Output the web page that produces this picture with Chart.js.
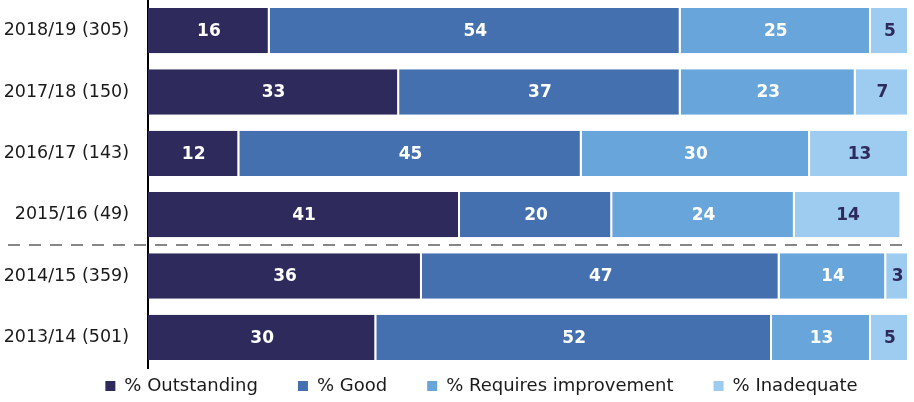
<!DOCTYPE html>
<html>
<head>
<meta charset="utf-8">
<script src="https://cdn.jsdelivr.net/npm/chart.js@4"></script>
<style>
  html, body { margin: 0; padding: 0; background: #fff; }
  #wrap { width: 914px; height: 402px; position: relative; }
</style>
</head>
<body>
<div id="wrap"><canvas id="chart"></canvas></div>
<script>
const years = ['2018/19 (305)', '2017/18 (150)', '2016/17 (143)', '2015/16 (49)', '2014/15 (359)', '2013/14 (501)'];
const outstanding = [16, 33, 12, 41, 36, 30];
const good = [54, 37, 45, 20, 47, 52];
const requiresImprovement = [25, 23, 30, 24, 14, 13];
const inadequate = [5, 7, 13, 14, 3, 5];

const FONT = 'DejaVu Sans';
const LEGEND_H = 34;

// numbers inside each segment
const barLabels = {
  id: 'barLabels',
  afterDatasetsDraw(chart) {
    const { ctx } = chart;
    ctx.save();
    ctx.font = `bold 17px "${FONT}"`;
    ctx.textAlign = 'center';
    ctx.textBaseline = 'middle';
    chart.data.datasets.forEach((ds, i) => {
      const meta = chart.getDatasetMeta(i);
      meta.data.forEach((bar, j) => {
        const x = (bar.x + bar.base) / 2;
        ctx.fillStyle = ds.labelColor;
        ctx.fillText(String(ds.data[j]), x, bar.y + 1);
      });
    });
    ctx.restore();
  }
};

// dashed divider between 2015/16 and 2014/15
const divider = {
  id: 'divider',
  afterDatasetsDraw(chart) {
    const { ctx, scales: { y }, chartArea } = chart;
    const py = Math.round((y.getPixelForValue(3) + y.getPixelForValue(4)) / 2);
    ctx.save();
    ctx.strokeStyle = '#868686';
    ctx.lineWidth = 2;
    ctx.setLineDash([12, 9]);
    ctx.beginPath();
    ctx.moveTo(8, py);
    ctx.lineTo(chartArea.right, py);
    ctx.stroke();
    ctx.restore();
  }
};

// legend: keep it a thin strip under the plot, nudged right like the original
const legendStrip = {
  id: 'legendStrip',
  beforeUpdate(chart) {
    const lg = chart.legend;
    if (lg && !lg._patched) {
      const fit = lg.fit.bind(lg);
      lg.fit = function () { fit(); this.height = LEGEND_H; this.minSize = { width: this.width, height: LEGEND_H }; };
      lg._patched = true;
    }
  },
  afterLayout(chart) {
    const lg = chart.legend;
    const pad = lg.options.labels.padding;
    lg.top = chart.chartArea.bottom + 9 - pad;
    lg.left += 27;
    lg.right += 27;
  }
};

const seg = (label, data, color, labelColor) => ({
  label, data, labelColor,
  backgroundColor: color,
  borderColor: '#ffffff',
  borderWidth: { left: 0, right: 2, top: 0, bottom: 0 },
  borderSkipped: false,
  barPercentage: 0.74,
  categoryPercentage: 1,
});

new Chart(document.getElementById('chart'), {
  type: 'bar',
  data: {
    labels: years,
    datasets: [
      seg('% Outstanding', outstanding, '#2e2b5c', '#ffffff'),
      seg('% Good', good, '#4470b0', '#ffffff'),
      seg('% Requires improvement', requiresImprovement, '#67a5da', '#ffffff'),
      seg('% Inadequate', inadequate, '#9ecbf0', '#2e2b5c'),
    ],
  },
  options: {
    indexAxis: 'y',
    responsive: true,
    maintainAspectRatio: false,
    animation: false,
    layout: { padding: { top: 0, right: 5, left: 0, bottom: 0 } },
    plugins: {
      legend: {
        position: 'bottom',
        labels: {
          color: '#1a1a1a',
          font: { size: 18, family: FONT },
          boxWidth: 10, boxHeight: 10,
          padding: 40,
          generateLabels(chart) {
            return chart.data.datasets.map((ds, i) => ({
              text: ds.label, fillStyle: ds.backgroundColor, strokeStyle: ds.backgroundColor,
              lineWidth: 0, datasetIndex: i, fontColor: '#1a1a1a'
            }));
          }
        },
      },
      tooltip: { enabled: false },
    },
    scales: {
      x: {
        stacked: true, min: 0, max: 100, display: false,
      },
      y: {
        stacked: true,
        grid: { display: false, drawTicks: false },
        border: { color: '#000000', width: 2 },
        ticks: { color: '#1a1a1a', font: { size: 17.5, family: FONT }, padding: 19 },
        afterFit(scale) {
          scale.width = 148;
          scale.paddingTop = 0;
          scale.paddingBottom = 0;
        },
      },
    },
  },
  plugins: [barLabels, divider, legendStrip],
});
</script>
</body>
</html>
